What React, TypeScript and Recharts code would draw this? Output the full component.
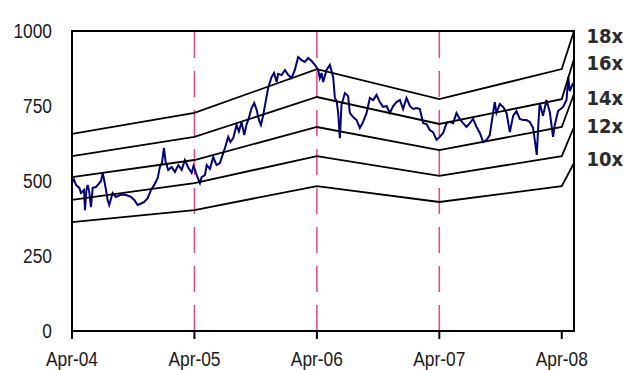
import React from 'react';
import { LineChart, Line, XAxis, YAxis, ReferenceLine, ReferenceArea, LabelList } from 'recharts';

// time axis: years since Apr-04
const yearTicks = [0, 1, 2, 3, 4];
const tickLabels = ['Apr-04', 'Apr-05', 'Apr-06', 'Apr-07', 'Apr-08'];
const valueTicks = [0, 250, 500, 750, 1000];

// PE band corner points
const bandTimes = [0, 1, 2, 3, 4, 4.1];
const band18 = [657, 727, 873, 773, 873, 1000];
const band16 = [583, 647, 780, 690, 773, 907];
const band14 = [513, 570, 680, 603, 680, 790];
const band12 = [437, 493, 583, 517, 583, 680];
const band10 = [363, 403, 483, 430, 483, 560];
const bandNames = ['18x', '16x', '14x', '12x', '10x'];
const bandValues = [band18, band16, band14, band12, band10];

// share price
const priceTimes = [
  0, 0.016, 0.033, 0.06, 0.073, 0.098, 0.106, 0.118, 0.128, 0.141, 0.155, 0.169, 0.196, 0.223, 0.237,
  0.251, 0.264, 0.278, 0.291, 0.304, 0.332, 0.359, 0.4, 0.441, 0.482, 0.509, 0.536, 0.563, 0.59, 0.618,
  0.645, 0.672, 0.7, 0.718, 0.735, 0.751, 0.765, 0.786, 0.814, 0.841, 0.868, 0.896, 0.922, 0.949, 0.977,
  0.992, 1.004, 1.018, 1.045, 1.059, 1.086, 1.1, 1.127, 1.153, 1.181, 1.208, 1.235, 1.249, 1.276, 1.294,
  1.317, 1.344, 1.363, 1.385, 1.407, 1.426, 1.439, 1.467, 1.488, 1.508, 1.527, 1.543, 1.562, 1.581, 1.602,
  1.63, 1.651, 1.671, 1.684, 1.712, 1.739, 1.766, 1.793, 1.82, 1.847, 1.875, 1.902, 1.929, 1.957, 1.984,
  2.011, 2.024, 2.038, 2.051, 2.079, 2.106, 2.133, 2.147, 2.161, 2.174, 2.188, 2.201, 2.229, 2.255, 2.269,
  2.296, 2.324, 2.351, 2.378, 2.406, 2.433, 2.46, 2.487, 2.514, 2.541, 2.569, 2.596, 2.623, 2.65, 2.678,
  2.704, 2.732, 2.759, 2.786, 2.814, 2.841, 2.868, 2.896, 2.922, 2.949, 2.977, 3.004, 3.031, 3.059, 3.086,
  3.113, 3.14, 3.167, 3.194, 3.222, 3.249, 3.276, 3.304, 3.331, 3.358, 3.386, 3.412, 3.439, 3.453, 3.467,
  3.494, 3.521, 3.549, 3.576, 3.603, 3.63, 3.657, 3.684, 3.712, 3.739, 3.766, 3.796, 3.81, 3.82, 3.847,
  3.875, 3.902, 3.929, 3.943, 3.97, 4.011, 4.039, 4.053, 4.065, 4.093,
];
const priceValues = [
  495, 505, 487, 477, 460, 470, 403, 470, 487, 463, 413, 477, 480, 493, 500,
  527, 500, 470, 437, 420, 460, 447, 455, 453, 447, 437, 420, 425, 430, 443,
  470, 487, 510, 547, 560, 610, 563, 537, 547, 530, 553, 537, 570, 545, 527,
  550, 537, 520, 493, 513, 520, 553, 540, 580, 553, 560, 593, 610, 647, 630,
  643, 687, 665, 697, 653, 690, 703, 743, 760, 737, 703, 687, 720, 763, 810,
  847, 860, 830, 857, 853, 870, 853, 843, 870, 913, 903, 897, 910, 900, 887,
  870, 843, 860, 830, 870, 887, 847, 777, 767, 727, 643, 753, 793, 783, 727,
  713, 703, 677, 697, 727, 777, 770, 787, 763, 747, 750, 727, 750, 763, 770,
  740, 777, 750, 740, 743, 740, 693, 690, 670, 663, 637, 647, 660, 693, 697,
  693, 727, 707, 693, 680, 693, 707, 680, 660, 630, 637, 653, 727, 763, 727,
  757, 747, 727, 663, 717, 733, 707, 703, 703, 697, 677, 587, 697, 760, 717,
  770, 730, 647, 687, 733, 747, 770, 847, 800, 827,
];

const priceData = priceTimes.map((t, i) => ({ t, v: priceValues[i] }));
const bandData = bandValues.map((vals) => vals.map((v, i) => ({ t: bandTimes[i], v })));

// no Arial Narrow here, so squeeze Liberation Sans a bit
const axisFont = "'Liberation Sans', Arial, sans-serif";
// small vertical nudges so the end labels don't crowd each other
const labelNudge = [5, 3.5, 3.5, -1, -4];

const XTick = (props: any) => {
  const { x, y, payload } = props;
  const label = tickLabels[yearTicks.indexOf(payload.value)] ?? '';
  return (
    <g transform={`translate(${x},${y + 27})`}>
      <text transform="scale(0.89,1)" textAnchor="middle" fill="#1a1a1a" fontSize={19.5} fontFamily={axisFont}>
        {label}
      </text>
    </g>
  );
};

const YTick = (props: any) => {
  const { x, y, payload } = props;
  return (
    <g transform={`translate(${x},${y + 7})`}>
      <text transform="scale(0.89,1)" textAnchor="end" fill="#1a1a1a" fontSize={19.5} fontFamily={axisFont}>
        {payload.value}
      </text>
    </g>
  );
};

const endLabel = (k: number, last: number) => (props: any) => {
  if (props.index !== last) return <g />;
  return (
    <g transform={`translate(${props.x + 12.5},${props.y + labelNudge[k] + 7.3})`}>
      <text
        transform="scale(0.9,1)"
        fontFamily="'DejaVu Sans', Verdana, sans-serif"
        fontWeight="bold"
        fontSize={20}
        fill="#2b2b2b"
      >
        {bandNames[k]}
      </text>
    </g>
  );
};

export default function App() {
  return (
    <div style={{ position: 'absolute', left: 0, top: 0 }}>
      <LineChart width={629} height={370} margin={{ top: 31, right: 55, bottom: 0, left: 0 }}>
        <XAxis
          type="number"
          dataKey="t"
          domain={[0, 4.1]}
          ticks={yearTicks}
          height={39}
          tickSize={8}
          tickMargin={0}
          axisLine={{ stroke: '#000', strokeWidth: 2 }}
          tickLine={{ stroke: '#000', strokeWidth: 2 }}
          tick={<XTick />}
          allowDataOverflow
        />
        <YAxis
          type="number"
          domain={[0, 1000]}
          ticks={valueTicks}
          width={72}
          tickLine={false}
          tickMargin={14}
          axisLine={{ stroke: '#000', strokeWidth: 2 }}
          tick={<YTick />}
          allowDataOverflow
        />
        {[1, 2, 3].map((t) => (
          <ReferenceLine key={t} x={t} stroke="#e4458c" strokeWidth={1.5} strokeDasharray="26 13" />
        ))}
        <ReferenceArea x1={0} x2={4.1} y1={0} y2={1000} fill="none" stroke="#000" strokeWidth={2} />
        <Line
          data={priceData}
          dataKey="v"
          type="linear"
          stroke="#000080"
          strokeWidth={2}
          dot={false}
          isAnimationActive={false}
        />
        {bandData.map((d, k) => (
          <Line
            key={bandNames[k]}
            data={d}
            dataKey="v"
            type="linear"
            stroke="#000"
            strokeWidth={1.8}
            dot={false}
            isAnimationActive={false}
          >
            <LabelList dataKey="v" content={endLabel(k, d.length - 1)} />
          </Line>
        ))}
      </LineChart>
    </div>
  );
}
